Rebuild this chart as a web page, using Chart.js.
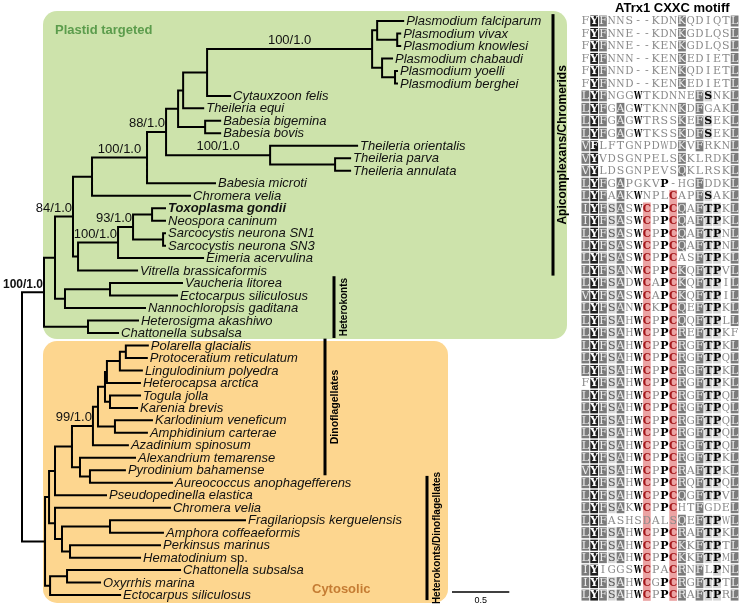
<!DOCTYPE html>
<html lang="en">
<head>
<meta charset="UTF-8">
<title>ATrx1 phylogeny</title>
<script src="https://cdn.jsdelivr.net/npm/chart.js@4.4.1/dist/chart.umd.min.js"></script>
<style>
  html, body { margin: 0; padding: 0; background: #fff; }
  #wrap { position: relative; width: 739px; height: 605px; overflow: hidden; }
  #treeChart { position: absolute; left: 0; top: 0; }
  #alnChart { position: absolute; left: 581px; top: 0; }
</style>
</head>
<body>
<div id="wrap">
  <canvas id="treeChart" width="580" height="605"></canvas>
  <canvas id="alnChart" width="158" height="605"></canvas>
</div>
<script>
// ---- data ----
const taxa = [
  'Plasmodium falciparum', 'Plasmodium vivax', 'Plasmodium knowlesi', 'Plasmodium chabaudi',
  'Plasmodium yoelli', 'Plasmodium berghei', 'Cytauxzoon felis', 'Theileria equi',
  'Babesia bigemina', 'Babesia bovis', 'Theileria orientalis', 'Theileria parva',
  'Theileria annulata', 'Babesia microti', 'Chromera velia', 'Toxoplasma gondii',
  'Neospora caninum', 'Sarcocystis neurona SN1', 'Sarcocystis neurona SN3', 'Eimeria acervulina',
  'Vitrella brassicaformis', 'Vaucheria litorea', 'Ectocarpus siliculosus', 'Nannochloropsis gaditana',
  'Heterosigma akashiwo', 'Chattonella subsalsa',
  'Polarella glacialis', 'Protoceratium reticulatum', 'Lingulodinium polyedra', 'Heterocapsa arctica',
  'Togula jolla', 'Karenia brevis', 'Karlodinium veneficum', 'Amphidinium carterae',
  'Azadinium spinosum', 'Alexandrium temarense', 'Pyrodinium bahamense', 'Aureococcus anophagefferens',
  'Pseudopedinella elastica', 'Chromera velia', 'Fragilariopsis kerguelensis', 'Amphora coffeaeformis',
  'Perkinsus marinus', 'Hematodinium sp.', 'Chattonella subsalsa', 'Oxyrrhis marina',
  'Ectocarpus siliculosus'
];
const boldTaxa = ['Toxoplasma gondii'];

// terminal branch length of each taxon (substitutions/site)
const tipLengths = [
  0.227, 0.026, 0.026, 0.087, 0.017, 0.017, 0.201, 0.175, 0.131, 0.131,
  0.759, 0.131, 0.131, 0.593, 0.855, 0.113, 0.113, 0.017, 0.017, 0.742,
  0.515, 0.628, 0.585, 0.698, 0.436, 0.262,
  0.192, 0.183, 0.192, 0.288, 0.262, 0.236, 0.323, 0.279, 0.305, 0.480,
  0.305, 0.716, 0.445, 1.003, 1.178, 0.462, 0.785, 0.611, 0.986, 0.288,
  0.611
];

// internal nodes: [id, children (taxon index or node id), branch length, support]
const clades = [
  ['root', ['P0', 'C0'], 0, ''],
  ['P0', ['P1', 'HC'], 0.192, '100/1.0'],
  ['P1', ['AC', 'HK'], 0.096, ''],
  ['AC', ['X92', 'CV'], 0.157, '84/1.0'],
  ['X92', ['N147', 14], 0.166, ''],
  ['N147', ['N166', 13], 0.480, '100/1.0'],
  ['N166', ['N178', 'TH'], 0.166, '88/1.0'],
  ['N178', ['N183', 'BB'], 0.105, ''],
  ['N183', ['PC', 7], 0.044, ''],
  ['PC', ['PL', 6], 0.209, ''],
  ['PL', ['PA1', 'PB'], 1.440, '100/1.0'],
  ['PA1', [0, 'VK'], 0.044, ''],
  ['VK', [1, 2], 0.175, ''],
  ['PB', [3, 'YB'], 0.087, ''],
  ['YB', [4, 5], 0.113, ''],
  ['BB', [8, 9], 0.236, ''],
  ['TH', [10, 'TPA'], 0.908, '100/1.0'],
  ['TPA', [11, 12], 0.567, ''],
  ['CV', ['CO', 20], 0.044, ''],
  ['CO', ['N133', 19], 0.349, '100/1.0'],
  ['N133', ['TN', 'SS'], 0.131, '93/1.0'],
  ['TN', [15, 16], 0.166, ''],
  ['SS', [17, 18], 0.262, ''],
  ['HK', ['VE', 23], 0.087, ''],
  ['VE', [21, 22], 0.393, ''],
  ['HC', [24, 25], 0.384, ''],
  ['C0', ['U', 'L'], 0.201, ''],
  ['U', ['V', 'W'], 0.035, ''],
  ['V', ['DN', 38], 0.052, ''],
  ['DN', ['CORE', 'AL'], 0.148, ''],
  ['CORE', ['N98', 34], 0.183, '99/1.0'],
  ['N98', ['D1', 'KA'], 0.044, ''],
  ['D1', ['D1A', 'TK'], 0.061, ''],
  ['D1A', ['N120', 29], 0.017, ''],
  ['N120', ['PP', 28], 0.113, ''],
  ['PP', [26, 27], 0.052, ''],
  ['TK', [30, 31], 0.044, ''],
  ['KA', [32, 33], 0.148, ''],
  ['AL', [35, 'PAU'], 0.070, ''],
  ['PAU', [36, 37], 0.087, ''],
  ['W', [39, 'X'], 0.052, ''],
  ['X', ['FA', 'PH'], 0.061, ''],
  ['FA', [40, 41], 0.419, ''],
  ['PH', [42, 43], 0.070, ''],
  ['L', ['CO2', 46], 0.044, ''],
  ['CO2', [44, 45], 0.148, '']
];

// taxon ranges of the labelled groups
const groupBars = [
  { name: 'Apicomplexans/Chromerids', from: 0, to: 20 },
  { name: 'Heterokonts', from: 21, to: 25 },
  { name: 'Dinoflagellates', from: 26, to: 36 },
  { name: 'Heterokonts/Dinoflagellates', from: 37, to: 46 }
];
const scaleBarLength = 0.5;

// ATrx1 CXXC motif alignment, one row per taxon
const alignment = [
  'FYFNNS--KDNKQDIQTL', 'FYFNNE--KDNKGDLQSL', 'FYFNNE--KENKGDLQSL', 'FYFNNN--KENKEDIETL',
  'FYFNND--KENKQDIETL', 'FYFNND--KENKEDIETL', 'LYFNGGWTKDNNEFSNKL', 'LYFGAGWTKNNKDFGAKL',
  'LYFGAGWTRSSKEFSEKL', 'LYFGAGWTKSSKDFSEKL', 'VFLFTGNPDWDKVFRKNL', 'VYVDSGNPELSKKLRDKL',
  'VYLDSGNPEVSQKLRSKL', 'LYFGAPGKVP-HGFDDKL', 'LYFAAKWNPLCAPFSAKL', 'IYFSASWCPPCQAFTPKL',
  'IYFSASWCPPCQAFTPKL', 'LYFSASWCPPCQAFTPNL', 'LYFSASWCPPCQAFTPNL', 'LYFSASWCPPCASFTPKL',
  'LYFSANWCPPCKQFTPVL', 'LYFSADWCAPCKQFTPIL', 'VYFSASWCAPCKQFTPIL', 'LYFSANWCKPCQEFTPKL',
  'LYFSAHWCPPCQQFTPLL', 'LYFSAHWCPPCREFTPKF', 'LYFSAHWCPPCRGFTPKL', 'LYFSAHWCPPCRGFTPQL',
  'LYFSAHWCPPCRGFTPKL', 'FYFSAHWCPPCRGFTPKL', 'LYFSAHWCPPCRGFTPQL', 'LYFSAHWCPPCRGFTPQL',
  'LYFSAHWCPPCRGFTPQL', 'LYFSAHWCPPCRGFTPQL', 'LYFSAHWCPPCRGFTPQL', 'LYFSAHWCPPCRGFTPKL',
  'VYFSAHWCPPCRAFTPKL', 'LYFSAHWCPPCRQFTPQL', 'LYFSAHWCPPCQGFTPVL', 'LYFSAKWCPPCHTFGDEL',
  'LYFASHSDALSQEFTPWL', 'LYFSAHWCPPCRAFTPKL', 'LYFSAHWCPPCKKFTPTL', 'LYFSAHWCPPCKKFTPML',
  'IYIGGSWCPACRNFLPNL', 'IYFSAHWCGPCRGFTPTL', 'LYFSAHWCPPCRAFTPRL'
];

// ---- tree layout (x = distance from root, y = taxon row) ----
const cladeMap = {};
clades.forEach(c => { cladeMap[c[0]] = { id: c[0], kids: c[1], len: c[2], support: c[3] }; });
const nodes = [];
function place(ref, parentX, depth) {
  if (typeof ref === 'number') {
    const leaf = { x: parentX + tipLengths[ref], y: ref, kids: [], px: parentX };
    return leaf;
  }
  const c = cladeMap[ref];
  const n = { x: parentX + c.len, px: parentX, support: c.support, depth: depth };
  n.kids = c.kids.map(k => place(k, n.x, depth + 1));
  n.y = (n.kids[0].y + n.kids[n.kids.length - 1].y) / 2;
  nodes.push(n);
  return n;
}
place('root', 0, 0);

const branchPts = [];
const gap = { x: NaN, y: NaN };
nodes.forEach(n => {
  const first = n.kids[0], last = n.kids[n.kids.length - 1];
  branchPts.push({ x: n.x, y: first.y }, { x: n.x, y: last.y }, gap);
  n.kids.forEach(k => branchPts.push({ x: n.x, y: k.y }, { x: k.x, y: k.y }, gap));
});
const tipPts = taxa.map((name, i) => ({ x: tipLengths[i], y: i, name: name }));
// tip x = sum along its path; recompute from layout
(function fillTips() {
  function walk(ref, parentX) {
    if (typeof ref === 'number') { tipPts[ref].x = parentX + tipLengths[ref]; return; }
    const c = cladeMap[ref];
    c.kids.forEach(k => walk(k, parentX + c.len));
  }
  walk('root', 0);
})();

// ---- alignment shading (BoxShade-like, from column consensus) ----
const simGroups = ['LIVM', 'FY', 'KRQ', 'ST', 'DE'];
function grp(ch) { const g = simGroups.find(s => s.includes(ch)); return g || ch; }
const nCols = alignment[0].length;
const consensus = [];
for (let c = 0; c < nCols; c++) {
  const cnt = {}, gcnt = {};
  alignment.forEach(row => {
    const ch = row[c];
    if (ch === '-') return;
    cnt[ch] = (cnt[ch] || 0) + 1;
    gcnt[grp(ch)] = (gcnt[grp(ch)] || 0) + 1;
  });
  const top = Object.keys(cnt).sort((a, b) => cnt[b] - cnt[a])[0];
  consensus.push({ ch: top, frac: gcnt[grp(top)] / alignment.length });
}
function cellStyle(ch, c) {
  const cons = consensus[c];
  const plain = { bg: null, fg: '#8a8a8a', bold: false };
  if (ch === '-' || grp(ch) !== grp(cons.ch) || cons.frac < 0.6) return plain;
  if (cons.ch === 'C') return ch === 'C' ? { bg: null, fg: '#a3161a', bold: true } : plain;
  if (cons.ch === 'Y') return { bg: '#1d1d1d', fg: '#ffffff', bold: true };
  if ('LIVMFAKRQ'.includes(cons.ch)) return { bg: '#7b7b7b', fg: '#eeeeee', bold: false };
  if ('WPT'.includes(cons.ch)) return { bg: c >= 12 ? '#d4d4d4' : null, fg: '#000000', bold: true };
  return { bg: '#d9d9d9', fg: '#555555', bold: false };
}
const cells = [];
alignment.forEach((row, r) => {
  for (let c = 0; c < nCols; c++) cells.push({ x: c, y: r, res: row[c], style: cellStyle(row[c], c) });
});
// red bands behind the two conserved cysteines
const cysBands = [];
for (let c = 0; c < nCols; c++) {
  if (consensus[c].ch !== 'C') continue;
  const rows = alignment.map((row, r) => row[c] === 'C' ? r : -1).filter(r => r >= 0);
  cysBands.push({ col: c, from: rows[0], to: rows[rows.length - 1] });
}

// ---- shared y scale (taxon rows) ----
const yScale = { type: 'linear', min: -1.683, max: 46.795, reverse: true, display: false };
const sans = '"Liberation Sans", Arial, sans-serif';

function roundBox(ctx, x0, y0, x1, y1, r) {
  ctx.beginPath();
  ctx.moveTo(x0 + r, y0);
  ctx.arcTo(x1, y0, x1, y1, r);
  ctx.arcTo(x1, y1, x0, y1, r);
  ctx.arcTo(x0, y1, x0, y0, r);
  ctx.arcTo(x0, y0, x1, y0, r);
  ctx.closePath();
  ctx.fill();
}

const treeDecor = {
  id: 'treeDecor',
  beforeDatasetsDraw(chart) {
    const ctx = chart.ctx, ys = chart.scales.y;
    ctx.save();
    ctx.fillStyle = '#cde3ab';
    roundBox(ctx, 43, ys.getPixelForValue(-0.8), 567, ys.getPixelForValue(25.48), 14);
    ctx.fillStyle = '#fdd68f';
    roundBox(ctx, 43, ys.getPixelForValue(25.64), 448, ys.getPixelForValue(46.63), 14);
    ctx.font = 'bold 13px ' + sans;
    ctx.textBaseline = 'middle';
    ctx.fillStyle = '#5b9c4c';
    ctx.fillText('Plastid targeted', 55, 30);
    ctx.fillStyle = '#c57c33';
    ctx.fillText('Cytosolic', 312, 589);
    ctx.restore();
  },
  afterDatasetsDraw(chart) {
    const ctx = chart.ctx, xs = chart.scales.x, ys = chart.scales.y;
    ctx.save();
    // taxon names
    const meta = chart.getDatasetMeta(1);
    ctx.textBaseline = 'middle';
    ctx.fillStyle = '#111';
    meta.data.forEach((pt, i) => {
      const name = tipPts[i].name;
      const bold = boldTaxa.includes(name) ? 'bold ' : '';
      let x = pt.x + 3;
      const y = pt.y + 0.5;
      if (name.endsWith(' sp.')) {
        const genus = name.slice(0, -4);
        ctx.font = 'italic ' + bold + '13px ' + sans;
        ctx.fillText(genus, x, y);
        x += ctx.measureText(genus).width;
        ctx.font = bold + '13px ' + sans;
        ctx.fillText(' sp.', x, y);
      } else {
        ctx.font = 'italic ' + bold + '13px ' + sans;
        ctx.fillText(name, x, y);
      }
    });
    // support values above their branches
    ctx.textBaseline = 'bottom';
    nodes.forEach(n => {
      if (!n.support) return;
      ctx.font = (n.depth === 1 ? 'bold 12px ' : '13px ') + sans;
      const w = ctx.measureText(n.support).width;
      const x0 = xs.getPixelForValue(n.px), x1 = xs.getPixelForValue(n.x);
      const y = ys.getPixelForValue(n.y) - 2;
      if (x1 - x0 >= w + 4) {
        ctx.textAlign = 'center';
        ctx.fillText(n.support, (x0 + x1) / 2, y);
      } else {
        ctx.textAlign = 'right';
        ctx.fillText(n.support, x1 - 1, y);
      }
    });
    // group bars
    const barX = { 'Apicomplexans/Chromerids': 553, 'Heterokonts': 334, 'Dinoflagellates': 325, 'Heterokonts/Dinoflagellates': 427 };
    const barFont = { 'Apicomplexans/Chromerids': 12, 'Heterokonts': 10, 'Dinoflagellates': 10.5, 'Heterokonts/Dinoflagellates': 10 };
    groupBars.forEach(g => {
      const x = barX[g.name];
      const y0 = ys.getPixelForValue(g.from - 0.55), y1 = ys.getPixelForValue(g.to + 0.4);
      ctx.fillStyle = '#000';
      ctx.fillRect(x - 1.5, y0, 3, y1 - y0);
      ctx.save();
      ctx.translate(x + 10, (y0 + y1) / 2);
      ctx.rotate(-Math.PI / 2);
      ctx.font = 'bold ' + barFont[g.name] + 'px ' + sans;
      ctx.textAlign = 'center';
      ctx.textBaseline = 'middle';
      ctx.fillText(g.name, 0, 0);
      ctx.restore();
    });
    // scale bar
    const sb0 = xs.getPixelForValue(3.752), sb1 = xs.getPixelForValue(3.752 + scaleBarLength);
    const sy = ys.getPixelForValue(45.75);
    ctx.strokeStyle = '#000';
    ctx.lineWidth = 1.5;
    ctx.beginPath();
    ctx.moveTo(sb0, sy);
    ctx.lineTo(sb1, sy);
    ctx.stroke();
    ctx.font = '9px ' + sans;
    ctx.textAlign = 'center';
    ctx.textBaseline = 'top';
    ctx.fillText(String(scaleBarLength), (sb0 + sb1) / 2, sy + 4);
    ctx.restore();
  }
};

new Chart(document.getElementById('treeChart'), {
  type: 'scatter',
  data: {
    datasets: [
      { label: 'branches', data: branchPts, showLine: true, borderColor: '#000', borderWidth: 2,
        pointRadius: 0, borderCapStyle: 'square', borderJoinStyle: 'miter', tension: 0 },
      { label: 'tips', data: tipPts, pointRadius: 0, showLine: false }
    ]
  },
  options: {
    responsive: false, animation: false, devicePixelRatio: 1, events: [],
    layout: { padding: 0 },
    plugins: { legend: { display: false }, tooltip: { enabled: false } },
    scales: {
      x: { type: 'linear', min: -0.192, max: 4.869, display: false },
      y: yScale
    }
  },
  plugins: [treeDecor]
});

const alnDecor = {
  id: 'alnDecor',
  afterDatasetsDraw(chart) {
    const ctx = chart.ctx, xs = chart.scales.x, ys = chart.scales.y;
    const cw = xs.getPixelForValue(1) - xs.getPixelForValue(0);
    const rh = ys.getPixelForValue(1) - ys.getPixelForValue(0);
    ctx.save();
    ctx.fillStyle = '#000';
    ctx.font = 'bold 13px ' + sans;
    ctx.textAlign = 'center';
    ctx.textBaseline = 'middle';
    ctx.fillText('ATrx1 CXXC motiff', xs.getPixelForValue(9.9), 8);
    cysBands.forEach(b => {
      const x = xs.getPixelForValue(b.col);
      const y0 = ys.getPixelForValue(b.from) - rh / 2 + 0.5, y1 = ys.getPixelForValue(b.to) + rh / 2 - 0.5;
      ctx.fillStyle = '#eba3a3';
      ctx.fillRect(x - cw / 2 + 0.5, y0, cw - 1, y1 - y0);
    });
    const meta = chart.getDatasetMeta(0);
    meta.data.forEach((pt, i) => {
      const cell = cells[i], st = cell.style;
      if (st.bg) {
        ctx.fillStyle = st.bg;
        ctx.fillRect(pt.x - cw / 2 + 0.5, pt.y - rh / 2 + 0.75, cw - 1, rh - 1.5);
      }
      ctx.fillStyle = st.fg;
      ctx.font = (st.bold ? 'bold ' : '') + '11px "DejaVu Serif", "Liberation Serif", serif';
      ctx.fillText(cell.res, pt.x, pt.y + 0.5, cw - 0.5);
    });
    ctx.restore();
  }
};

new Chart(document.getElementById('alnChart'), {
  type: 'scatter',
  data: { datasets: [{ label: 'residues', data: cells, pointRadius: 0 }] },
  options: {
    responsive: false, animation: false, devicePixelRatio: 1, events: [],
    layout: { padding: 0 },
    plugins: { legend: { display: false }, tooltip: { enabled: false } },
    scales: {
      x: { type: 'linear', min: -0.5, max: 17.5, display: false },
      y: yScale
    }
  },
  plugins: [alnDecor]
});
</script>
</body>
</html>
